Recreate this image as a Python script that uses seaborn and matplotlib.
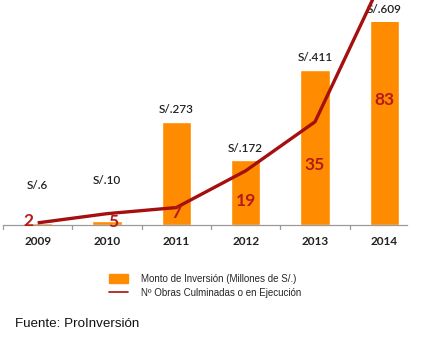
import numpy as np
import pandas as pd
import matplotlib
matplotlib.use("Agg")
import matplotlib.pyplot as plt
import seaborn as sns
from matplotlib.patches import Patch
from matplotlib.lines import Line2D

years = ["2009", "2010", "2011", "2012", "2013", "2014"]
monto = [6, 10, 273, 172, 411, 609]
obras = [2, 5, 7, 19, 35, 83]
monto_labels = ["S/.6", "S/.10", "S/.273", "S/.172", "S/.411", "S/.609"]
legend_labels = ["Monto de Inversión (Millones de S/.)", "Nº Obras Culminadas o en Ejecución"]
source = "Fuente: ProInversión"

ORANGE = "#FF8C00"
RED = "#A50F0F"
NUM_RED = "#B51A1A"

sns.set_theme(style="white")
plt.rcParams["font.family"] = ["Lato", "DejaVu Sans"]

fig = plt.figure(figsize=(4.21, 3.52), dpi=100)
fig.patch.set_facecolor("white")
ax = fig.add_axes([3 / 421, 127 / 352, 416 / 421, 203 / 352])

df = pd.DataFrame({"year": years, "monto": monto})
sns.barplot(data=df, x="year", y="monto", color=ORANGE, saturation=1, width=0.42, ax=ax)
ax.set_ylim(0, 538)
ax.set_xlim(-0.5, 5.5)
ax.set_xlabel("")
ax.set_ylabel("")
ax.set_yticks([])
for s in ["top", "right", "left"]:
    ax.spines[s].set_visible(False)
ax.spines["bottom"].set_color("#9a9a9a")
ax.spines["bottom"].set_linewidth(0.9)
ax.spines["bottom"].set_bounds(-0.5, 5.33)
ax.set_xticks(range(len(years)))
ax.set_xticklabels(years, fontsize=8.5, fontweight="bold", color="#222222")
ax.tick_params(axis="x", length=0, pad=8)
for b in np.arange(-0.5, 5.0, 1.0):
    ax.plot([b, b], [0, -10], color="#9a9a9a", lw=0.9, clip_on=False)

# value labels above bars (small bars get a raised label)
for i, (v, lab) in enumerate(zip(monto, monto_labels)):
    base = v if v >= 50 else 74 + 13 * i
    ax.text(i, min(base, 538) + 32, lab, ha="center", va="center", fontsize=8.5,
            fontweight="semibold", color="#222222", clip_on=False)

ax2 = fig.add_axes(ax.get_position(), frameon=False)
ax2.plot(np.arange(len(obras)), obras, color=RED, lw=2.4, clip_on=False,
         solid_capstyle="butt", zorder=4)
ax2.set_xlim(-0.5, 5.5)
ax2.set_ylim(1.3, 67.6)
ax2.set_axis_off()

# numbers of works (placed in bar-axis coordinates)
num_pos = [(-0.13, 10), (0.09, 8), (0.0, 32), (0.0, 64), (0.0, 159), (0.0, 331)]
for i, (n, (dx, y)) in enumerate(zip(obras, num_pos)):
    ax2.text(i + dx, y, str(n), transform=ax.transData, ha="center", va="center",
             fontsize=12.5, fontweight="bold", color=NUM_RED, zorder=5)

handles = [Patch(facecolor=ORANGE, edgecolor=ORANGE),
           Line2D([0], [0], color=RED, lw=1.2)]
leg = fig.legend(handles, legend_labels, loc="upper left", bbox_to_anchor=(100 / 421, 1 - 265 / 352),
                 frameon=False, prop={"family": "Liberation Sans", "size": 7},
                 handlelength=2.0, handleheight=1.1, handletextpad=1.3, labelspacing=0.45)

fig.text(15 / 421, 1 - 324 / 352, source, fontsize=9.6, family="Liberation Sans",
         color="#111111", va="center", ha="left")

fig.savefig("out.png", dpi=100, facecolor="white")
